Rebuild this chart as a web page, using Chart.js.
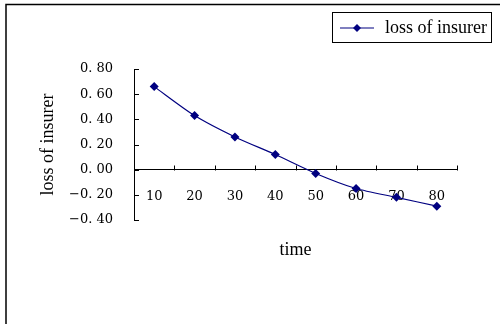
<!DOCTYPE html>
<html>
<head>
<meta charset="utf-8">
<script src="https://cdn.jsdelivr.net/npm/chart.js@4/dist/chart.umd.min.js"></script>
<style>
html, body { margin: 0; padding: 0; background: #fff; overflow: hidden; }
</style>
</head>
<body>
<canvas id="lossgraph" width="500" height="324"></canvas>
<script>
// time points and insurer loss at each one
var time_list = ["10", "20", "30", "40", "50", "60", "70", "80"];
var loss_list = [0.66, 0.43, 0.26, 0.12, -0.03, -0.15, -0.22, -0.29];
var series_name = "loss of insurer";
var x_title = "time";

// value axis range
var y_min = -0.4;
var y_max = 0.8;
var y_step = 0.2;

var tick_font = { family: "DejaVu Serif", size: 13 };
var title_font = { family: "Liberation Serif", size: 18 };
var navy = "#000080";

function fmtTick(v) {
    // "0. 80" style, wide minus
    var s = Math.abs(v).toFixed(2).replace(".", ". ");
    return (v < -1e-9 ? "\u2212" : "") + s;
}

// outer frame, inward tick marks, the x title and the boxed legend
var decorations = {
    id: "decorations",
    beforeDraw: function(chart) {
        var ctx = chart.ctx;
        ctx.save();
        ctx.fillStyle = "#fff";
        ctx.fillRect(0, 0, chart.width, chart.height);
        ctx.strokeStyle = "#000";
        ctx.lineWidth = 1.5;
        ctx.beginPath();
        ctx.moveTo(6, chart.height);
        ctx.lineTo(6, 4.5);
        ctx.lineTo(chart.width, 4.5);
        ctx.stroke();
        ctx.restore();
    },
    afterDraw: function(chart) {
        var ctx = chart.ctx;
        var xs = chart.scales.x;
        var ys = chart.scales.y;
        var area = chart.chartArea;
        ctx.save();
        ctx.strokeStyle = "#000";
        ctx.lineWidth = 1;
        ctx.beginPath();
        // y ticks point into the plot
        ys.ticks.forEach(function(t) {
            var py = Math.round(ys.getPixelForValue(t.value)) + 0.5;
            ctx.moveTo(area.left, py);
            ctx.lineTo(area.left + 5, py);
        });
        // x ticks sit between categories, pointing up
        var y0 = Math.round(ys.getPixelForValue(0)) + 0.5;
        var half = (xs.getPixelForValue(1) - xs.getPixelForValue(0)) / 2;
        for (var i = 0; i <= time_list.length; i++) {
            var px = Math.round(xs.getPixelForValue(i) - half) + 0.5;
            ctx.moveTo(px, y0);
            ctx.lineTo(px, y0 - 5);
        }
        ctx.stroke();

        ctx.font = title_font.size + "px " + title_font.family;
        ctx.fillStyle = "#000";
        ctx.textBaseline = "middle";

        // x axis title, under the plot
        ctx.textAlign = "center";
        ctx.fillText(x_title, (area.left + area.right) / 2, 250);

        // legend
        ctx.strokeStyle = "#000";
        ctx.strokeRect(332.5, 12.5, 159, 30);
        ctx.strokeStyle = navy;
        ctx.lineWidth = 1.2;
        ctx.beginPath();
        ctx.moveTo(340, 28);
        ctx.lineTo(374, 28);
        ctx.stroke();
        ctx.fillStyle = navy;
        ctx.beginPath();
        ctx.moveTo(357, 24);
        ctx.lineTo(361, 28);
        ctx.lineTo(357, 32);
        ctx.lineTo(353, 28);
        ctx.closePath();
        ctx.fill();
        ctx.fillStyle = "#000";
        ctx.textAlign = "left";
        ctx.fillText(chart.data.datasets[0].label, 385, 28);
        ctx.restore();
    }
};

new Chart(document.getElementById("lossgraph").getContext("2d"), {
    type: "line",
    data: {
        labels: time_list,
        datasets: [{
            label: series_name,
            data: loss_list,
            fill: false,
            borderColor: navy,
            backgroundColor: navy,
            borderWidth: 1.2,
            pointStyle: "rectRot",
            pointRadius: 4.5,
            pointBorderWidth: 0,
            tension: 0.25
        }]
    },
    options: {
        responsive: false,
        animation: false,
        devicePixelRatio: 1,
        layout: {
            padding: { left: 0, right: 43, top: 69, bottom: 104 }
        },
        plugins: {
            legend: { display: false },
            tooltip: { enabled: false }
        },
        scales: {
            x: {
                type: "category",
                position: { y: 0 },
                offset: true,
                grid: { display: false },
                border: { display: true, color: "#000", width: 1 },
                ticks: {
                    color: "#000",
                    font: tick_font,
                    padding: 11,
                    maxRotation: 0,
                    autoSkip: false
                },
                title: { display: false }
            },
            y: {
                min: y_min,
                max: y_max,
                grid: { display: false },
                border: { display: true, color: "#000", width: 1 },
                ticks: {
                    stepSize: y_step,
                    color: "#000",
                    font: tick_font,
                    padding: 13,
                    callback: function(v) { return fmtTick(v); }
                },
                title: {
                    display: true,
                    text: series_name,
                    color: "#000",
                    font: title_font,
                    padding: { top: 37, bottom: 0 }
                },
                afterFit: function(scale) {
                    scale.width = 134;
                }
            }
        }
    },
    plugins: [decorations]
});
</script>
</body>
</html>
